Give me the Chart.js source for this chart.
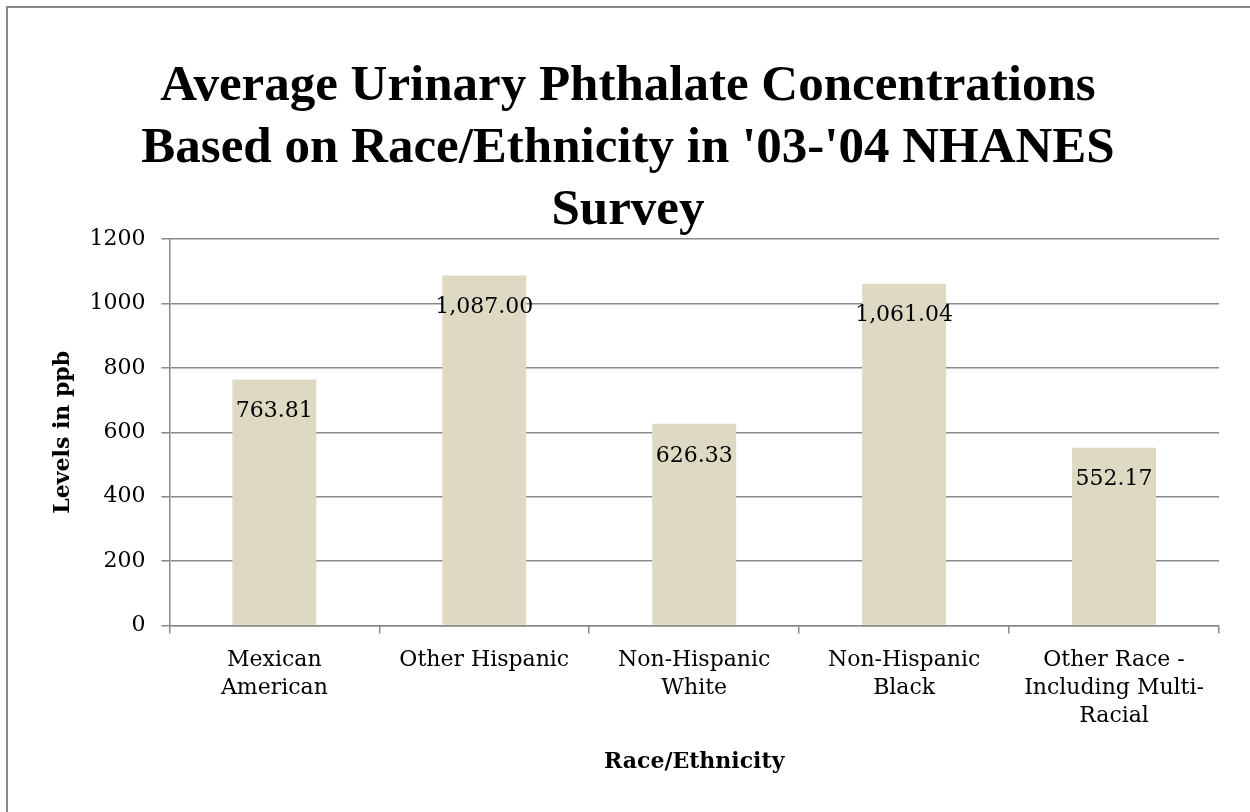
<!DOCTYPE html>
<html>
<head>
<meta charset="utf-8">
<title>Average Urinary Phthalate Concentrations</title>
<script src="https://cdn.jsdelivr.net/npm/chart.js@4.4.1/dist/chart.umd.min.js"></script>
<style>
  html, body { margin: 0; padding: 0; background: #ffffff; }
  canvas { display: block; }
</style>
</head>
<body>
<canvas id="chart" width="1250" height="812"></canvas>
<script>
// Survey groups (multi-line labels are arrays of lines)
const categories = [
  ["Mexican", "American"],
  "Other Hispanic",
  ["Non-Hispanic", "White"],
  ["Non-Hispanic", "Black"],
  ["Other Race -", "Including Multi-", "Racial"]
];

// Average urinary phthalate level per group, ppb
const levels = [763.81, 1087.00, 626.33, 1061.04, 552.17];

// Value axis ticks
const valueTicks = [0, 200, 400, 600, 800, 1000, 1200];

const titleLines = [
  "Average Urinary Phthalate Concentrations",
  "Based on Race/Ethnicity in '03-'04 NHANES",
  "Survey"
];

const GRID = "#898989";
const BAR = "#ddd9c3";
const SERIF = "'DejaVu Serif', serif";

// White page with a frame along the top and left edges
const framePlugin = {
  id: "frame",
  beforeDraw(chart) {
    const ctx = chart.ctx;
    ctx.save();
    ctx.fillStyle = "#ffffff";
    ctx.fillRect(0, 0, chart.width, chart.height);
    ctx.strokeStyle = "#888888";
    ctx.lineWidth = 2;
    ctx.strokeRect(7, 7, chart.width + 40, chart.height + 40);
    ctx.restore();
  }
};

// Value labels written inside each bar, just under its top
const valueLabelPlugin = {
  id: "valueLabels",
  afterDatasetsDraw(chart) {
    const ctx = chart.ctx;
    const meta = chart.getDatasetMeta(0);
    const values = chart.data.datasets[0].data;
    ctx.save();
    ctx.font = "22px " + SERIF;
    ctx.fillStyle = "#000000";
    ctx.textAlign = "center";
    ctx.textBaseline = "middle";
    meta.data.forEach((bar, i) => {
      const text = values[i].toLocaleString("en-US", {
        minimumFractionDigits: 2,
        maximumFractionDigits: 2
      });
      ctx.fillText(text, bar.x, bar.y + 32);
    });
    ctx.restore();
  }
};

new Chart(document.getElementById("chart"), {
  type: "bar",
  data: {
    labels: categories,
    datasets: [{
      data: levels,
      backgroundColor: BAR,
      borderWidth: 0,
      categoryPercentage: 1.0,
      barPercentage: 0.4
    }]
  },
  options: {
    responsive: false,
    animation: false,
    layout: { padding: { left: 37, right: 31, top: 0, bottom: 37 } },
    plugins: {
      legend: { display: false },
      tooltip: { enabled: false },
      title: {
        display: true,
        text: titleLines,
        color: "#000000",
        font: { family: "'Liberation Serif', serif", size: 51, weight: "bold", lineHeight: "62px" },
        padding: { top: 56, bottom: -3 }
      }
    },
    scales: {
      x: {
        offset: true,
        grid: {
          display: true,
          drawOnChartArea: false,
          drawTicks: true,
          tickLength: 8,
          color: GRID,
          lineWidth: 1.5
        },
        border: { display: true, color: GRID, width: 1.5 },
        ticks: {
          color: "#000000",
          padding: 13,
          maxRotation: 0,
          autoSkip: false,
          font: { family: SERIF, size: 22, lineHeight: "28px" }
        },
        title: {
          display: true,
          text: "Race/Ethnicity",
          color: "#000000",
          font: { family: SERIF, size: 22, weight: "bold", lineHeight: 1.2 },
          padding: { top: 5, bottom: 0 }
        }
      },
      y: {
        min: valueTicks[0],
        max: valueTicks[valueTicks.length - 1],
        afterBuildTicks(scale) {
          scale.ticks = valueTicks.map(v => ({ value: v }));
        },
        grid: {
          color: GRID,
          lineWidth: 1.5,
          drawTicks: true,
          tickLength: 8
        },
        border: { display: true, color: GRID, width: 1.5 },
        ticks: {
          color: "#000000",
          padding: 16,
          font: { family: SERIF, size: 22 },
          callback: v => String(v)
        },
        title: {
          display: true,
          text: "Levels in ppb",
          color: "#000000",
          font: { family: SERIF, size: 22, weight: "bold", lineHeight: 1.2 },
          padding: { top: 13, bottom: -3 }
        }
      }
    }
  },
  plugins: [framePlugin, valueLabelPlugin]
});
</script>
</body>
</html>
